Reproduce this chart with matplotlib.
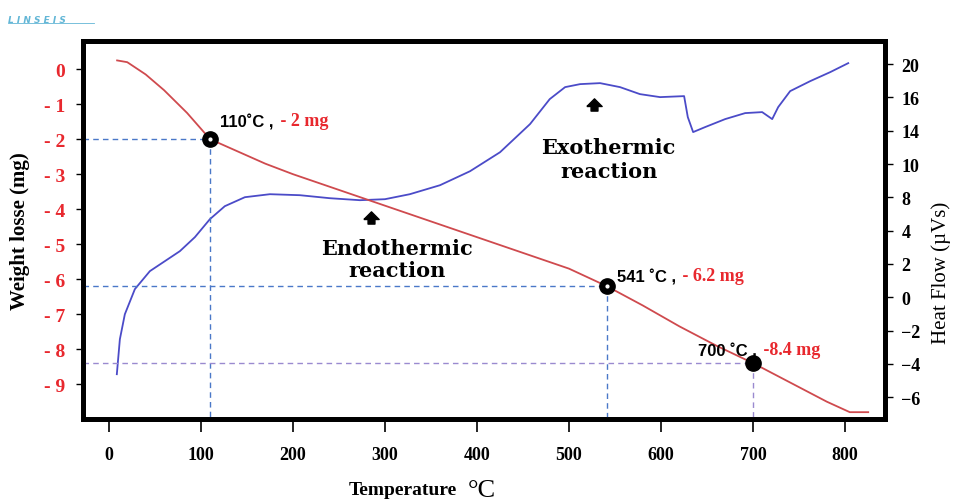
import numpy as np
import matplotlib
matplotlib.use('Agg')
import matplotlib.pyplot as plt
from matplotlib.path import Path

# weight loss curve (mg) vs temperature (C)
temp_w = [9, 20, 40, 60, 85, 110, 140, 170, 200, 250, 300, 350, 400, 450,
          500, 541, 580, 620, 660, 700, 740, 780, 805, 825]
weight = [0.25, 0.2, -0.15, -0.6, -1.25, -2.0, -2.35, -2.7, -3.0, -3.45, -3.9,
          -4.35, -4.8, -5.25, -5.7, -6.2, -6.75, -7.35, -7.9, -8.4, -8.95,
          -9.5, -9.8, -9.8]

# heat flow curve, in the (evenly spaced) tick units of the right axis
temp_h = [8.7, 12, 17.4, 28.3, 44.6, 60.9, 77.2, 93.5, 109.8, 126, 147.8, 175,
          207.6, 240, 272.8, 300, 327, 359.8, 392.4, 425, 457.6, 479, 495.7,
          512, 533.7, 555.4, 577, 598.9, 625, 629, 634.8, 647.8, 669.6, 691.3,
          709.8, 720.7, 727.2, 740.2, 762, 783.7, 803.3]
heat = [-4.62, -2.52, -1.02, 0.49, 1.57, 2.17, 2.77, 3.61, 4.69, 5.47, 6.01,
        6.19, 6.13, 5.95, 5.83, 5.89, 6.19, 6.73, 7.57, 8.71, 10.40, 11.90,
        12.62, 12.80, 12.86, 12.62, 12.20, 12.02, 12.08, 10.82, 9.92, 10.22,
        10.70, 11.06, 11.12, 10.70, 11.42, 12.38, 12.98, 13.52, 14.06]

x_ticks = [0, 100, 200, 300, 400, 500, 600, 700, 800]
w_ticks = [0, -1, -2, -3, -4, -5, -6, -7, -8, -9]
w_labels = ['0', '- 1', '- 2', '- 3', '- 4', '- 5', '- 6', '- 7', '- 8', '- 9']
h_ticks = [-6, -4, -2, 0, 2, 4, 6, 8, 10, 12, 14]
h_labels = ['\u22126', '\u22124', '\u22122', '0', '2', '4', '8', '10', '14', '16', '20']

# marked points
pt_temp = [110, 541, 700]
pt_weight = [-2.0, -6.2, -8.4]
pt_temp_txt = ['110\u02daC ,', '541 \u02daC ,', '700 \u02daC ,']
pt_w_txt = ['- 2 mg', '- 6.2 mg', '-8.4 mg']
guide_cols = ['#4a78c8', '#4a78c8', '#9a8ad0']

serif = 'Liberation Serif'
red_txt = '#e8282e'

fig = plt.figure(figsize=(9.59, 5.02), dpi=100)
ax = fig.add_axes([0.0866, 0.163, 0.836, 0.753])
ax2 = ax.twinx()
ax.set_zorder(ax2.get_zorder() + 1)
ax.patch.set_visible(False)

xlim = (-28, 843)
wlim = (-10, 0.8)
ax.set_xlim(xlim)
ax.set_ylim(wlim)
ax2.set_ylim(-7.32, 15.38)

ax2.plot(temp_h, heat, color='#4b4bc8', lw=1.3)
ax.plot(temp_w, weight, color='#cf4a4e', lw=1.3)

for t, w, c in zip(pt_temp, pt_weight, guide_cols):
    ax.plot([xlim[0], t], [w, w], ls=(0, (4, 3)), color=c, lw=1)
    ax.plot([t, t], [w, wlim[0]], ls=(0, (4, 3)), color=c, lw=1)
ax.plot(pt_temp, pt_weight, 'o', color='black', ms=11, zorder=5)
ax.plot(pt_temp[:2], pt_weight[:2], 'o', color='white', ms=2, zorder=6)

offs = [(10, 10), (10, 2), (-55, 5)]
for t, w, s1, s2, o in zip(pt_temp, pt_weight, pt_temp_txt, pt_w_txt, offs):
    a = ax.annotate(s1, (t, w), xytext=o, textcoords='offset pixels',
                    fontsize=12, fontweight='bold', family='Liberation Sans',
                    va='bottom', ha='left', zorder=7)
    ax.annotate(' ' + s2, xy=(1, 0), xycoords=a, xytext=(2, 0),
                textcoords='offset pixels', fontsize=13, fontweight='bold',
                family=serif, color=red_txt, va='bottom', ha='left', zorder=7)

# reaction labels with arrows
arrow = Path([(-1, 0), (0, 1), (1, 0), (0.45, 0), (0.45, -0.6), (-0.45, -0.6),
              (-0.45, 0), (-1, 0)])
ax2.plot([285, 527], [4.7, 11.5], ls='none', marker=arrow, ms=11, color='black')
ax2.text(313, 2.3, 'Endothermic\nreaction', ha='center', va='center',
         fontsize=15, fontweight='bold', family='DejaVu Serif', linespacing=1.15)
ax2.text(543, 8.3, 'Exothermic\nreaction', ha='center', va='center',
         fontsize=15, fontweight='bold', family='DejaVu Serif', linespacing=1.3)

# axes styling
for a_ in (ax, ax2):
    for sp in a_.spines.values():
        sp.set_linewidth(3.5)
        sp.set_color('black')

ax.set_xticks(x_ticks)
ax.set_xticklabels([str(v) for v in x_ticks], fontsize=13, fontweight='bold',
                   family=serif)
ax.tick_params(axis='x', direction='out', length=9, width=1.2, pad=10)
ax.set_yticks(w_ticks)
ax.set_yticklabels(w_labels, fontsize=14, fontweight='bold', family=serif,
                   color=red_txt)
ax.tick_params(axis='y', direction='out', length=5, width=1, pad=8)
ax2.set_yticks(h_ticks)
ax2.set_yticklabels(h_labels, fontsize=13, fontweight='bold', family=serif)
ax2.tick_params(axis='y', direction='out', length=6, width=1, pad=6)

ax.set_ylabel('Weight losse (mg)', fontsize=15, fontweight='bold', family=serif,
              labelpad=10)
ax2.set_ylabel('Heat Flow (\u00b5Vs)', fontsize=15, family=serif, labelpad=8)
ax2.yaxis.set_label_coords(1.058, 0.39)

fig.text(0.42, 0.006, 'Temperature', fontsize=14, fontweight='bold',
         family=serif, ha='center', va='bottom')
fig.text(0.502, 0.0, '\u00b0C', fontsize=19, family=serif, ha='center',
         va='bottom')

# logo
fig.text(0.008, 0.955, 'L I N S E I S', fontsize=6.5, fontstyle='italic',
         fontweight='bold', color='#62b6d6', family='DejaVu Sans')
fig.add_artist(plt.Line2D([0.008, 0.098], [0.952, 0.952], color='#62b6d6', lw=0.6))

fig.savefig('out.png', dpi=100)
